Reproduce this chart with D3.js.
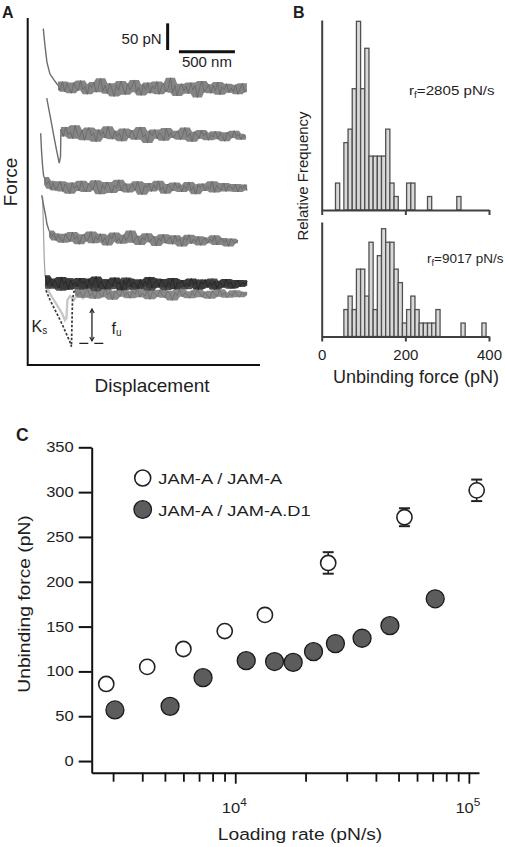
<!DOCTYPE html>
<html><head><meta charset="utf-8">
<script src="https://cdn.jsdelivr.net/npm/d3@7"></script>
<style>html,body{margin:0;padding:0;background:#fff}svg{display:block}</style>
</head><body>
<script>
// ---------------- DATA ----------------
// Panel A: force traces (displacement nm, force pN offsets)
const t1Range = [270, 1958];
const t1Approach = [[139,630],[154,599],[172,567],[199,545],[235,534],[270,524]];
const t1Values = [524,515,531,512,527,518,509,529,520,514,533,516,522,507,526,519,530,511,521,537,513,524,508,528,517,503,525,514,532,519,506,527,515,522,534,511,520,505,525,516,529,509,523,517,531,507,521,528,512,518,538,510,524,504,519,527,513,522,508,529,515,523,501,520,532,511,518,526,509,524,514,530,506,521,516,527,510,519,512,525,507,518,528,511,515];
const t2Range = [297, 1949];
const t2Approach = [[170,500],[199,468],[229,434],[257,403],[282,378],[293,390],[297,442]];
const t2Values = [442,428,446,431,437,424,449,433,427,440,421,436,445,429,434,418,441,430,438,425,447,432,423,439,428,435,419,443,431,426,440,433,422,437,446,427,432,416,438,429,441,424,435,430,420,444,428,436,425,433,439,422,430,445,427,434,418,437,431,424,440,429,435,421,432,427,438,423,434,429,419,436,430,425,439,428,433,422,431,426];
const t3Range = [146, 1960];
const t3Approach = [[116,434],[123,403],[132,375],[141,356],[146,352]];
const t3Values = [352,338,345,330,341,327,336,344,325,339,333,321,342,330,337,326,345,331,324,340,335,328,346,332,320,338,329,343,334,322,337,331,347,326,335,340,323,333,339,327,344,330,319,336,332,341,325,338,330,345,328,334,321,339,333,326,342,331,337,324,336,329,343,327,334,320,338,332,340,326,335,330,344,323,337,331,328,341,325,336,333,329,339,324,335,330,338,327];
const t4Range = [190, 1878];
const t4Approach = [[125,318],[141,300],[159,281],[172,264],[190,252]];
const t4Values = [252,240,247,233,244,236,229,246,238,231,249,235,242,226,240,245,232,237,250,228,241,234,246,230,239,224,243,236,248,231,238,227,244,233,240,252,229,237,242,225,239,234,247,230,236,241,223,238,232,245,228,235,240,226,243,231,237,222,239,233,244,227,236,230,241,224,234,239,228,236,231,243,225,233,238,229,235,222,237,231,228,234];
const t5Range = [155, 1960];
const t5Approach = [[133,315],[141,253],[148,197],[155,168]];
const t5aValues = [168,150,162,147,159,153,144,165,151,157,141,160,149,155,146,163,152,158,143,161,148,154,166,145,157,150,142,159,153,147,164,151,156,140,158,149,162,146,155,152,143,160,148,157,150,165,144,154,158,147,161,151,145,156,149,163,142,155,152,159,146,153,148,162,150,157,141,156,151,160,145,154,149,158,143,155,152,147,161,150,156,144,153,159,148,155,151,157];
const t5bValues = [149,158,143,155,161,146,152,139,157,150,163,144,153,148,160,141,156,151,145,162,147,155,138,158,150,146,161,153,142,157,149,159,144,152,147,164,150,141,156,153,148,160,143,151,157,139,154,149,162,145,152,158,140,155,150,147,161,144,153,148,156,142,159,151,146,154,160,143,150,157,147,152,162,141,155,149,153,145,158,150,143,156,148,154,146,159,151,149];
const t6Range = [423, 1960];
const t6Approach = [[163,140],[199,122],[235,107],[271,92],[306,77],[342,60],[378,43],[391,34],[400,122],[413,137],[423,141]];
const t6Values = [141,130,138,126,135,143,129,136,124,140,133,127,145,131,137,122,139,134,128,142,130,136,125,138,132,144,127,135,129,140,123,137,133,128,141,131,126,139,134,121,136,130,143,128,135,132,125,138,129,141,134,127,137,131,124,139,133,128,142,130,136,126,134,129,140,132,127,137,131,135];
const lightTrace = [[172,144],[217,127],[262,112],[306,97],[333,84],[346,88],[355,122],[378,129],[413,122],[449,133],[494,125],[538,135],[583,129]];
const scaleBarForce = 50;   // pN
const scaleBarDisp = 500;   // nm
const fuArrow = {x: 574, from: 105, to: 45};
const fuBaseline = {x0: 461, x1: 720, y: 40.6};

// Panel B: histograms (bin start pN, counts), bin width 10 pN
const binWidth = 10;
const histTopBins =   [33, 53, 63, 73, 83, 93, 103, 113, 123, 133, 143, 153, 163, 173, 203, 213, 253, 323];
const histTopCounts = [2,  5,  6,  9,  14, 9,  12,  4,   4,   4,   4,   6,   2,   1,   2,   2,   1,   1];
const histBotBins =   [53, 63, 73, 83, 93, 103, 113, 123, 133, 143, 153, 163, 173, 183, 193, 203, 213, 223, 233, 243, 253, 263, 273, 333, 383];
const histBotCounts = [2,  3,  2,  5,  5,  3,   7,   2,   6,   8,   7,   7,   5,   4,   1,   2,   3,   2,   1,   1,   1,   1,   2,   1,   1];
const histTickValues = [0, 200, 400];
const rateTop = "2805 pN/s";
const rateBot = "9017 pN/s";

// Panel C: loading rate vs unbinding force
const openRate  = [2805, 4200, 6000, 9017, 13400, 25000, 53000, 108000];
const openForce = [86, 105, 125, 145, 163, 221, 272, 302];
const openErr   = [3, 3, 3, 3, 3, 12, 10, 12];
const fillRate  = [3055, 5260, 7280, 11140, 14730, 17700, 21630, 26840, 34900, 45920, 71770];
const fillForce = [57, 61, 93, 112, 111, 110, 122, 131, 137, 151, 181];
const cYTicks = [0, 50, 100, 150, 200, 250, 300, 350];
const cXTicks = [3000,4000,5000,6000,7000,8000,9000,10000,20000,30000,40000,50000,60000,70000,80000,90000,100000];
const cXMajor = [10000, 100000];
const legendLabels = ["JAM-A / JAM-A", "JAM-A / JAM-A.D1"];

// ---------------- DRAW ----------------
const FONT = "'Liberation Sans', Arial, Helvetica, sans-serif";
const INK = "#1e1e1e";
const svg = d3.select("body").append("svg").attr("width", 505).attr("height", 847)
  .style("font-family", FONT);
svg.append("rect").attr("width", 505).attr("height", 847).attr("fill", "#fff");

function txt(g, o) {
  return g.append("text")
    .attr("transform", `translate(${o.x},${o.y}) rotate(${o.rot||0}) scale(${o.sx||1},1)`)
    .attr("font-size", o.size).attr("text-anchor", o.anchor || "start")
    .attr("font-weight", o.weight || "normal").attr("fill", o.fill || INK)
    .text(o.text);
}

// ---- Panel A ----
const gA = svg.append("g");
const xA = d3.scaleLinear().domain([0, 2075]).range([27.7, 260]);
const yA = d3.scaleLinear().domain([0, 650]).range([365, 18]);
const lineA = d3.line().x(d => xA(d[0])).y(d => yA(d[1]));
const band = (vals, r) => vals.map((v, i) => [r[0] + i * (r[1] - r[0]) / (vals.length - 1), v]);
// visual envelope of a noisy trace (local min / max of neighbouring samples)
const areaA = d3.area().x(d => xA(d.x)).y0(d => yA(d.lo)).y1(d => yA(d.hi));
function envelope(vals, r, w) {
  const pts = band(vals, r);
  return pts.map((p, i) => {
    const nb = vals.slice(Math.max(0, i - w), i + w + 1);
    return {x: p[0], lo: d3.min(nb), hi: d3.max(nb)};
  });
}
function noisyTrace(vals, r, fill, stroke, sw) {
  gA.append("path").attr("d", areaA(envelope(vals, r, 2))).attr("fill", fill).attr("stroke", "none");
  gA.append("path").attr("d", lineA(band(vals, r))).attr("fill", "none").attr("stroke", stroke).attr("stroke-width", sw);
}

gA.append("path").attr("d", lineA(lightTrace)).attr("fill", "none").attr("stroke", "#c8c8c8").attr("stroke-width", 2.4);
const traces = [
  {a: t1Approach, v: t1Values, r: t1Range},
  {a: t2Approach, v: t2Values, r: t2Range},
  {a: t3Approach, v: t3Values, r: t3Range},
  {a: t4Approach, v: t4Values, r: t4Range}
];
noisyTrace(t6Values, t6Range, "#8a8a8a", "#6f6f6f", 0.9);
gA.append("path").attr("d", lineA(t6Approach)).attr("fill", "none").attr("stroke", "#3a3a3a").attr("stroke-width", 1.7).attr("stroke-dasharray", "2.5,1.8");
gA.append("path").attr("d", lineA(t5Approach)).attr("fill", "none").attr("stroke", "#a0a0a0").attr("stroke-width", 1.2);
traces.forEach(t => {
  gA.append("path").attr("d", lineA(t.a)).attr("fill", "none").attr("stroke", "#6c6c6c").attr("stroke-width", 1.4);
  noisyTrace(t.v, t.r, "#858585", "#6a6a6a", 0.9);
});
noisyTrace(t5bValues, t5Range, "#505050", "#3c3c3c", 0.9);
noisyTrace(t5aValues, t5Range, "#3a3a3a", "#262626", 0.9);

// axes A
gA.append("path").attr("d", `M${xA(0)},${yA(650)}V${yA(0)}H${xA(2075)}`).attr("fill", "none").attr("stroke", "#111").attr("stroke-width", 2);
// scale bars
gA.append("line").attr("x1", xA(1250)).attr("x2", xA(1250)).attr("y1", yA(640)).attr("y2", yA(640 - scaleBarForce)).attr("stroke", "#111").attr("stroke-width", 3);
gA.append("line").attr("x1", xA(1351)).attr("x2", xA(1351 + scaleBarDisp)).attr("y1", yA(586.7)).attr("y2", yA(586.7)).attr("stroke", "#111").attr("stroke-width", 3);
txt(gA, {x: xA(1250) - 6, y: 44, text: scaleBarForce + " pN", size: 15, anchor: "end"});
txt(gA, {x: xA(1351 + scaleBarDisp / 2), y: 67, text: scaleBarDisp + " nm", size: 15, anchor: "middle"});
// fu arrow & dashed baseline
gA.append("line").attr("x1", xA(fuArrow.x)).attr("x2", xA(fuArrow.x)).attr("y1", yA(fuArrow.from)).attr("y2", yA(fuArrow.to)).attr("stroke", "#222").attr("stroke-width", 1.3);
gA.append("path").attr("d", `M${xA(fuArrow.x)-2.2},${yA(fuArrow.to)-4}L${xA(fuArrow.x)},${yA(fuArrow.to)}L${xA(fuArrow.x)+2.2},${yA(fuArrow.to)-4}`).attr("fill", "none").attr("stroke", "#222").attr("stroke-width", 1.1);
gA.append("path").attr("d", `M${xA(fuArrow.x)-2.2},${yA(fuArrow.from)+4}L${xA(fuArrow.x)},${yA(fuArrow.from)}L${xA(fuArrow.x)+2.2},${yA(fuArrow.from)+4}`).attr("fill", "none").attr("stroke", "#222").attr("stroke-width", 1.1);
gA.append("line").attr("x1", xA(fuBaseline.x0)).attr("x2", xA(fuBaseline.x1)).attr("y1", yA(fuBaseline.y)).attr("y2", yA(fuBaseline.y)).attr("stroke", "#222").attr("stroke-width", 1.3).attr("stroke-dasharray", "9,6");
// labels A
const ks = txt(gA, {x: 31.5, y: 332, text: "K", size: 16});
ks.append("tspan").attr("font-size", 10).attr("dy", 2).text("s");
const fu = txt(gA, {x: 111.5, y: 334, text: "f", size: 16});
fu.append("tspan").attr("font-size", 10).attr("dy", 2).text("u");
txt(gA, {x: 16.5, y: 182, text: "Force", size: 19, anchor: "middle", rot: -90});
txt(gA, {x: 152, y: 392, text: "Displacement", size: 19, anchor: "middle"});
txt(gA, {x: 2, y: 18, text: "A", size: 16, weight: "bold"});

// ---- Panel B ----
const gB = svg.append("g");
const xB = d3.scaleLinear().domain([0, 400]).range([321.7, 489]);
const yTop = d3.scaleLinear().domain([0, 14.1]).range([210, 20]);
const yBot = d3.scaleLinear().domain([0, 8.5]).range([336.5, 222]);
function hist(bins, counts, y) {
  gB.append("g").selectAll("rect").data(bins.map((b, i) => ({b, c: counts[i]}))).join("rect")
    .attr("x", d => xB(d.b)).attr("width", d => xB(d.b + binWidth) - xB(d.b))
    .attr("y", d => y(d.c)).attr("height", d => y(0) - y(d.c))
    .attr("fill", "#d9d9d9").attr("stroke", "#505050").attr("stroke-width", 1.3);
}
hist(histTopBins, histTopCounts, yTop);
hist(histBotBins, histBotCounts, yBot);
function histAxes(y, labels) {
  const ax = gB.append("g").attr("transform", `translate(0,${y(0)})`)
    .call(d3.axisBottom(xB).tickValues(histTickValues).tickSize(5).tickSizeOuter(0).tickPadding(8)
      .tickFormat(labels ? d3.format("d") : () => ""));
  ax.select(".domain").attr("stroke", "#404040").attr("stroke-width", 2);
  ax.selectAll(".tick line").attr("stroke", "#404040").attr("stroke-width", 2);
  ax.selectAll("text").attr("font-size", 15).attr("font-family", FONT).attr("fill", INK);
  const ay = gB.append("g").attr("transform", `translate(${xB(0)},0)`)
    .call(d3.axisLeft(y).tickValues([]).tickSizeOuter(0));
  ay.select(".domain").attr("stroke", "#404040").attr("stroke-width", 2);
}
histAxes(yTop, false);
histAxes(yBot, true);
function rateLabel(x, y, val, sx) {
  const t = txt(gB, {x, y, text: "r", size: 13.5, sx});
  t.append("tspan").attr("font-size", 9).attr("dy", 3).text("f");
  t.append("tspan").attr("dy", -3).text("=" + val);
}
rateLabel(409, 95, rateTop, 1.12);
rateLabel(427, 263, rateBot, 1);
txt(gB, {x: 308, y: 176, text: "Relative Frequency", size: 15, anchor: "middle", rot: -90});
txt(gB, {x: 416, y: 383, text: "Unbinding force (pN)", size: 18, anchor: "middle"});
txt(gB, {x: 293, y: 18, text: "B", size: 16, weight: "bold"});

// ---- Panel C ----
const SX = 1.18;
const gC = svg.append("g");
const xC = d3.scaleLog().domain([2430, 110500]).range([91.7, 479]);
const yC = d3.scaleLinear().domain([-13, 350]).range([772.7, 447.3]);
const ayC = gC.append("g").attr("transform", `translate(${xC.range()[0]},0)`)
  .call(d3.axisLeft(yC).tickValues(cYTicks).tickSize(13).tickSizeOuter(0).tickPadding(5));
ayC.select(".domain").attr("stroke", "#111").attr("stroke-width", 2);
ayC.selectAll(".tick line").attr("stroke", "#111").attr("stroke-width", 2);
ayC.selectAll(".tick text").attr("font-size", 14).attr("font-family", FONT).attr("fill", INK)
  .attr("x", -18 / SX).attr("transform", `scale(${SX},1)`);
const axC = gC.append("g").attr("transform", `translate(0,${yC(-13)})`)
  .call(d3.axisBottom(xC).tickValues(cXTicks).tickSize(9).tickSizeOuter(0).tickFormat(() => ""));
axC.select(".domain").attr("stroke", "#111").attr("stroke-width", 2);
axC.selectAll(".tick line").attr("stroke", "#111").attr("stroke-width", 1.8)
  .attr("y2", d => cXMajor.includes(d) ? 11 : 9);
cXMajor.forEach(v => {
  const e = Math.round(Math.log10(v));
  const t = txt(gC, {x: xC(v) - 1, y: 813, text: "10", size: 14, anchor: "middle", sx: SX});
  t.append("tspan").attr("font-size", 10).attr("dy", -7).text(e);
});
const errG = gC.append("g");
openRate.forEach((r, i) => {
  const x = xC(r), y0 = yC(openForce[i] - openErr[i]), y1 = yC(openForce[i] + openErr[i]);
  errG.append("line").attr("x1", x).attr("x2", x).attr("y1", y0).attr("y2", y1).attr("stroke", "#222").attr("stroke-width", 1.6);
  [y0, y1].forEach(yy => errG.append("line").attr("x1", x - 5.5).attr("x2", x + 5.5).attr("y1", yy).attr("y2", yy).attr("stroke", "#222").attr("stroke-width", 2));
});
gC.append("g").selectAll("circle").data(openRate.map((r, i) => [r, openForce[i]])).join("circle")
  .attr("cx", d => xC(d[0])).attr("cy", d => yC(d[1])).attr("r", 7.6)
  .attr("fill", "#fff").attr("stroke", "#222").attr("stroke-width", 1.6);
gC.append("g").selectAll("circle").data(fillRate.map((r, i) => [r, fillForce[i]])).join("circle")
  .attr("cx", d => xC(d[0])).attr("cy", d => yC(d[1])).attr("r", 9)
  .attr("fill", "#5c5c5c").attr("stroke", "#1a1a1a").attr("stroke-width", 1.3);
gC.append("circle").attr("cx", 142.7).attr("cy", 478).attr("r", 8).attr("fill", "#fff").attr("stroke", "#222").attr("stroke-width", 1.6);
gC.append("circle").attr("cx", 142.7).attr("cy", 509.5).attr("r", 8.8).attr("fill", "#5c5c5c").attr("stroke", "#1a1a1a").attr("stroke-width", 1.3);
txt(gC, {x: 158.3, y: 484, text: legendLabels[0], size: 15.5, sx: SX});
txt(gC, {x: 158.3, y: 515.5, text: legendLabels[1], size: 15.5, sx: SX});
txt(gC, {x: 300, y: 840, text: "Loading rate (pN/s)", size: 16.3, anchor: "middle", sx: SX});
txt(gC, {x: 30, y: 604, text: "Unbinding force (pN)", size: 16.3, anchor: "middle", sx: SX, rot: -90});
txt(gC, {x: 16, y: 441, text: "C", size: 17.5, weight: "bold"});
</script>
</body></html>
